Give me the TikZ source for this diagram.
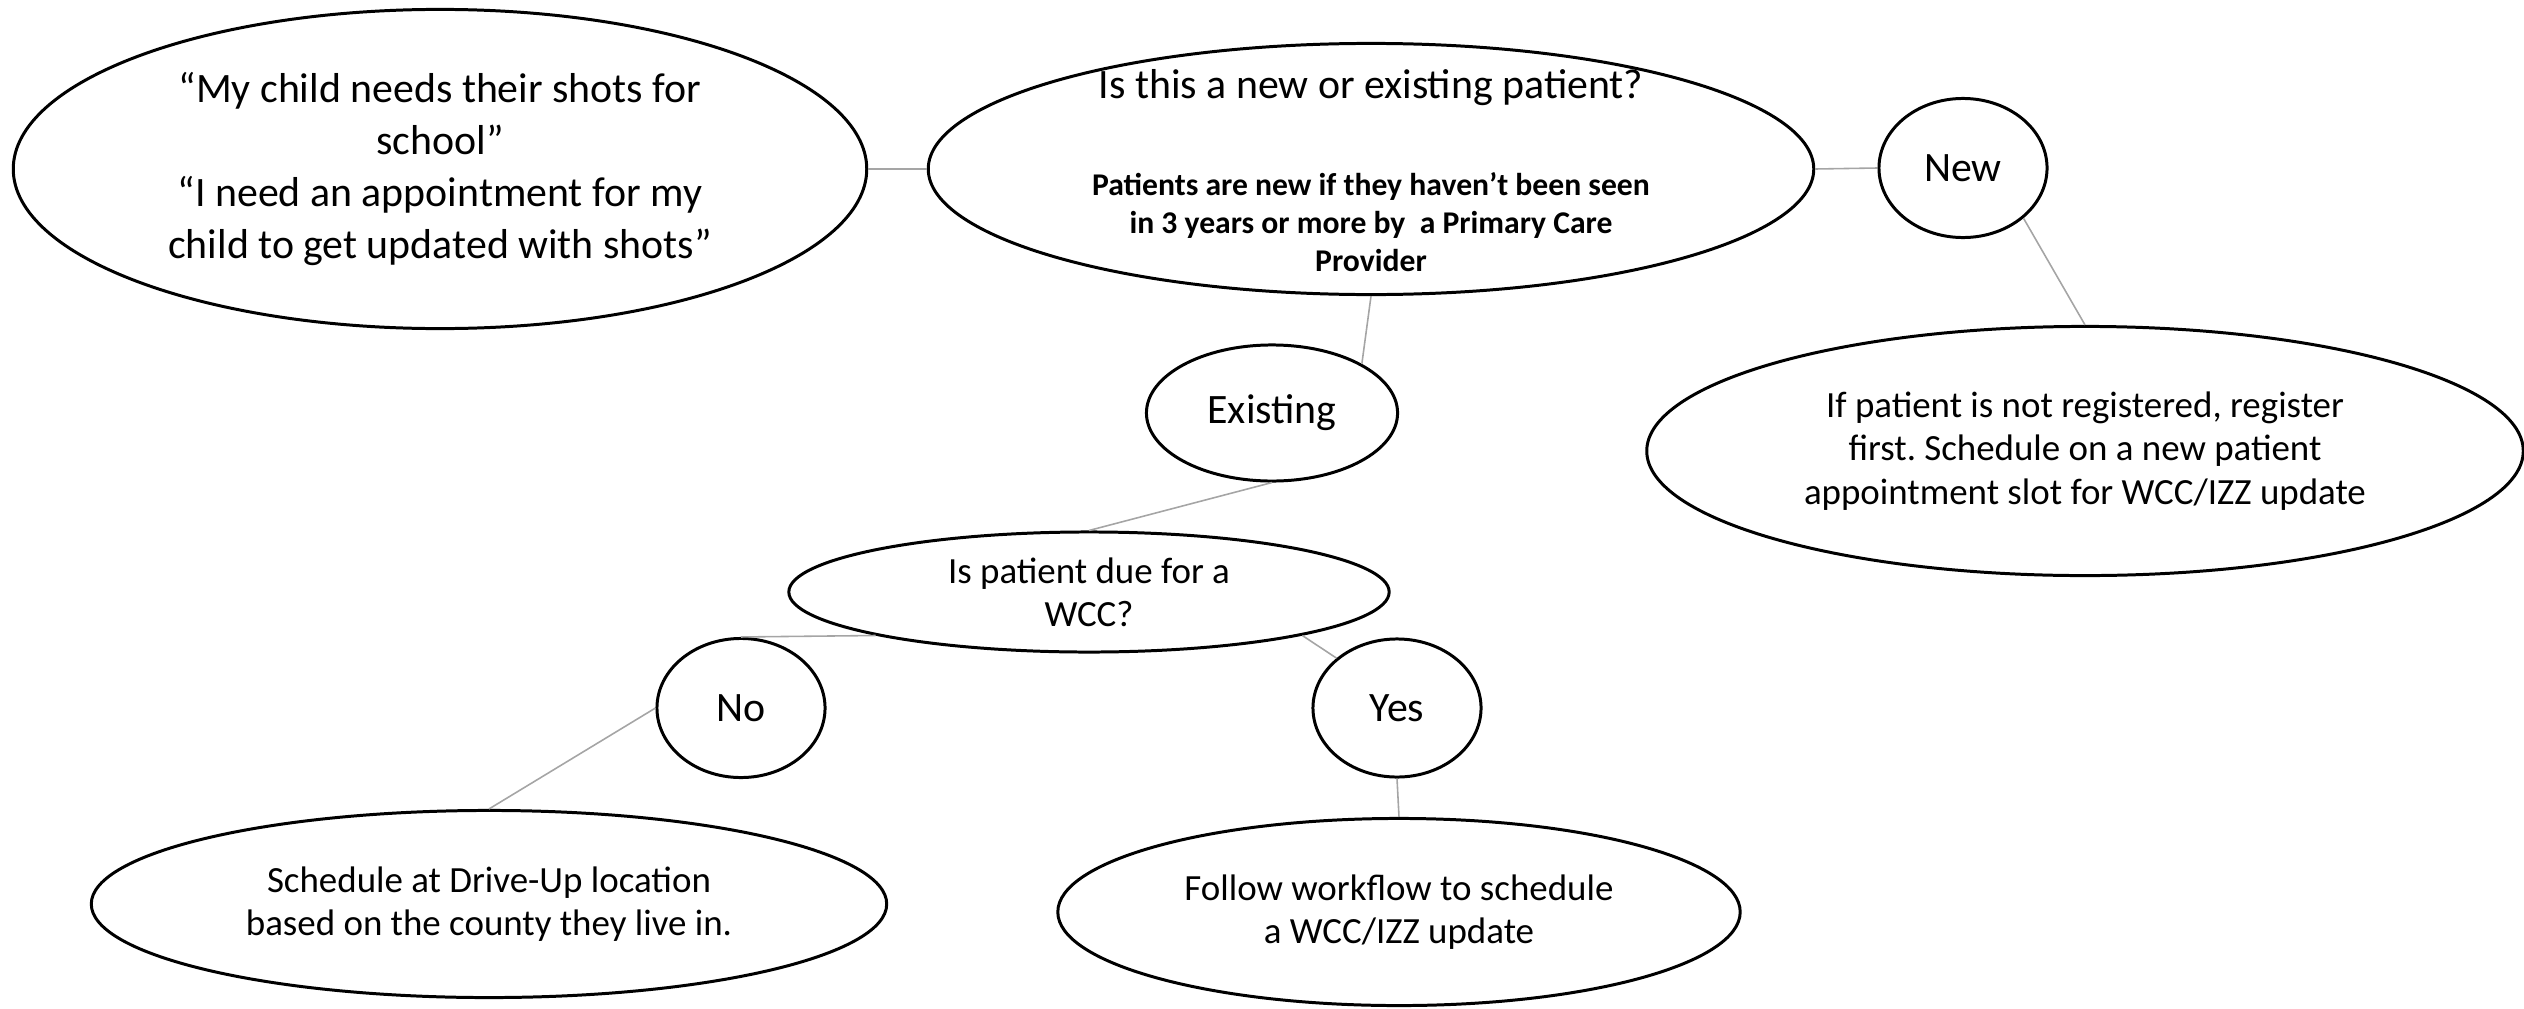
\documentclass[tikz,border=0pt]{standalone}
\usepackage{fontspec}
\setmainfont{Carlito}
\usetikzlibrary{shapes.geometric}
\definecolor{linkgray}{RGB}{165,165,165}
\frenchspacing
\tikzset{
  bub/.style={ellipse, draw, line width=0.85pt, inner sep=0pt, align=center},
  big/.style={font=\fontsize{11.9}{14.8}\selectfont},
  mid/.style={font=\fontsize{10.5}{12.3}\selectfont},
  note/.style={align=center, inner sep=0pt, font=\bfseries\fontsize{9}{10.8}\selectfont},
  link/.style={draw=linkgray, line width=0.45pt}
}

\begin{document}
\begin{tikzpicture}[x=0.01cm, y=-0.01cm]
\useasboundingbox (0,0) rectangle (2524,1009);
\node[bub, big, minimum width=8.53cm, minimum height=3.19cm] (quote) at (440,169)
  {“My child needs their shots for\\ school”\\ “I need an appointment for my\\ child to get updated with shots”};
\node[bub, minimum width=8.85cm, minimum height=2.51cm] (ask) at (1371,169) {};
\node[big, inner sep=0pt] (askq) at (1371,88) {Is this a new or existing patient?};
\node[note] (askn) at (1371,222)
  {Patients are new if they haven’t been seen\\ in 3 years or more by\ \ a Primary Care\\ Provider};
\node[bub, big, minimum width=1.68cm, minimum height=1.39cm] (new) at (1963,168) {New};
\node[bub, mid, minimum width=8.76cm, minimum height=2.49cm] (reg) at (2085,451)
  {If patient is not registered, register\\ first. Schedule on a new patient\\ appointment slot for WCC/IZZ update};
\node[bub, big, minimum width=2.51cm, minimum height=1.36cm] (exist) at (1272,413) {Existing};
\node[bub, mid, minimum width=6.0cm, minimum height=1.2cm] (wcc) at (1089,592)
  {Is patient due for a\\ WCC?};
\node[bub, big, minimum width=1.68cm, minimum height=1.39cm] (no) at (741,708) {No};
\node[bub, big, minimum width=1.68cm, minimum height=1.38cm] (yes) at (1397,708) {Yes};
\node[bub, mid, minimum width=7.95cm, minimum height=1.87cm] (drive) at (489,904)
  {Schedule at Drive-Up location\\ based on the county they live in.};
\node[bub, mid, minimum width=6.82cm, minimum height=1.87cm] (follow) at (1399,912)
  {Follow workflow to schedule\\ a WCC/IZZ update};
% connectors
\draw[link] (quote.east) -- (ask.west);
\draw[link] (ask.east) -- (new.west);
\draw[link] (new.south east) -- (reg.north);
\draw[link] (ask.south) -- (exist.north east);
\draw[link] (exist.south) -- (wcc.north);
\draw[link] (wcc.south west) -- (no.north);
\draw[link] (wcc.south east) -- (yes.north west);
\draw[link] (no.west) -- (drive.north);
\draw[link] (yes.south) -- (follow.north);
\end{tikzpicture}
\end{document}
